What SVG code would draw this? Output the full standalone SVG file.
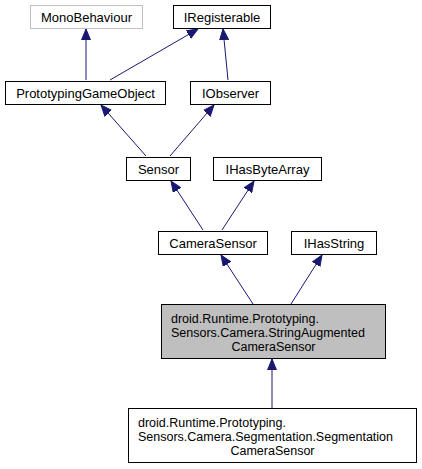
<svg xmlns="http://www.w3.org/2000/svg" width="422" height="469" viewBox="0 0 422 469">
<style>
.box{fill:#ffffff;stroke:#000000;stroke-width:1}
.ext{fill:#ffffff;stroke:#bfbfbf;stroke-width:1}
.cur{fill:#bfbfbf;stroke:#000000;stroke-width:1}
text{font-family:"Liberation Sans",Arial,Helvetica,sans-serif;font-size:13px;fill:#000000}
text.ml{font-size:12.5px}
.c{text-anchor:middle}
.edge{stroke:#191970;stroke-width:1;fill:none;marker-end:url(#ah)}
</style>
<defs>
<marker id="ah" markerUnits="userSpaceOnUse" markerWidth="12" markerHeight="10" viewBox="0 -5 12 10" refX="11" refY="0" orient="auto">
<path d="M0,-4.5 L11,0 L0,4.5 z" fill="#191970" stroke="#191970" stroke-width="1"/>
</marker>
</defs>
<g id="connectors">
<line class="edge" x1="86" y1="80" x2="86" y2="29"/>
<line class="edge" x1="110" y1="80" x2="198" y2="29"/>
<line class="edge" x1="228" y1="80" x2="223" y2="29"/>
<line class="edge" x1="146" y1="156" x2="101" y2="105"/>
<line class="edge" x1="170" y1="156" x2="214" y2="105"/>
<line class="edge" x1="203" y1="230" x2="171" y2="181"/>
<line class="edge" x1="222" y1="230" x2="254" y2="181"/>
<line class="edge" x1="253" y1="304" x2="221" y2="255"/>
<line class="edge" x1="291" y1="304" x2="322" y2="255"/>
<line class="edge" x1="272" y1="408" x2="272" y2="359"/>
</g>
<g id="MonoBehaviour">
<rect class="ext" x="30.5" y="5.5" width="112" height="23"/>
<text class="c" x="86.5" y="21.5">MonoBehaviour</text>
</g>
<g id="IRegisterable">
<rect class="box" x="173.5" y="5.5" width="97" height="23"/>
<text class="c" x="222" y="21.5">IRegisterable</text>
</g>
<g id="PrototypingGameObject">
<rect class="box" x="5.5" y="81.5" width="160" height="23"/>
<text class="c" x="85.5" y="97.5">PrototypingGameObject</text>
</g>
<g id="IObserver">
<rect class="box" x="190.5" y="81.5" width="80" height="23"/>
<text class="c" x="230.5" y="97.5">IObserver</text>
</g>
<g id="Sensor">
<rect class="box" x="126.5" y="157.5" width="64" height="23"/>
<text class="c" x="158.5" y="173.5">Sensor</text>
</g>
<g id="IHasByteArray">
<rect class="box" x="213.5" y="157.5" width="108" height="23"/>
<text class="c" x="267.5" y="173.5">IHasByteArray</text>
</g>
<g id="CameraSensor">
<rect class="box" x="158.5" y="231.5" width="109" height="23"/>
<text class="c" x="213" y="247.5">CameraSensor</text>
</g>
<g id="IHasString">
<rect class="box" x="291.5" y="231.5" width="85" height="23"/>
<text class="c" x="334" y="247.5">IHasString</text>
</g>
<g id="StringAugmentedCameraSensor">
<rect class="cur" x="161.5" y="304.5" width="224" height="54"/>
<text class="ml"><tspan x="171" y="323">droid.Runtime.Prototyping.</tspan><tspan x="171" y="337">Sensors.Camera.StringAugmented</tspan><tspan class="c" x="273.5" y="351">CameraSensor</tspan></text>
</g>
<g id="SegmentationCameraSensor">
<rect class="box" x="128.5" y="408.5" width="288" height="54"/>
<text class="ml"><tspan x="138" y="427">droid.Runtime.Prototyping.</tspan><tspan x="138" y="441">Sensors.Camera.Segmentation.Segmentation</tspan><tspan class="c" x="272.5" y="455">CameraSensor</tspan></text>
</g>
</svg>
